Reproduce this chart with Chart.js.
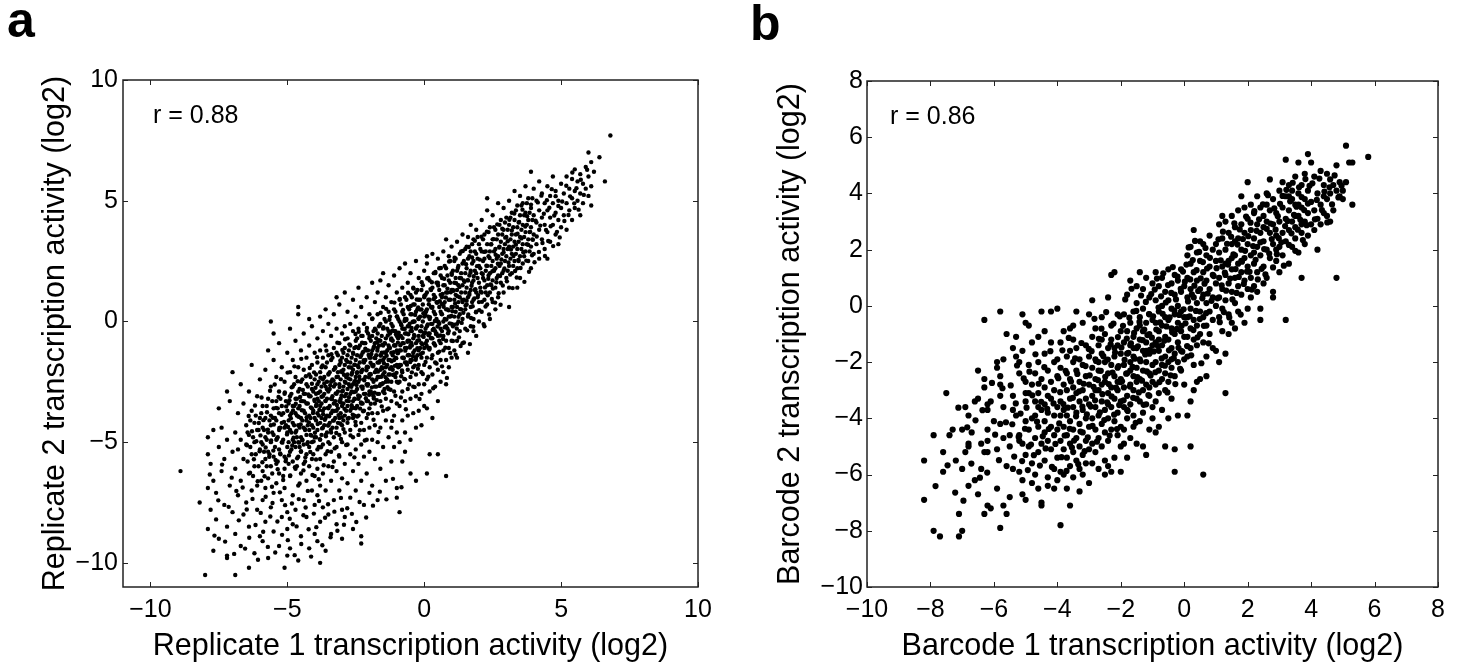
<!DOCTYPE html>
<html>
<head>
<meta charset="utf-8">
<script src="https://cdn.jsdelivr.net/npm/chart.js@4.4.1/dist/chart.umd.min.js"></script>
<style>
  html, body { margin: 0; padding: 0; background: #fff; }
  #wrap { position: relative; width: 1465px; height: 668px; }
  canvas { position: absolute; top: 0; }
  #chartA { left: 0; }
  #chartB { left: 733px; }
</style>
</head>
<body>
<div id="wrap">
  <canvas id="chartA" width="733" height="668"></canvas>
  <canvas id="chartB" width="732" height="668"></canvas>
</div>
<script>
// tick positions
const replicateTicks = [-10, -5, 0, 5, 10];
const barcodeTicks = [-10, -8, -6, -4, -2, 0, 2, 4, 6, 8];

// panel a: replicate 1 vs replicate 2 (log2)
const replicatePoints = [
  [-8.9,-6.2],[-8.2,-7.5],[-8.0,-10.5],[-7.9,-4.8],[-7.9,-5.5],[-7.8,-7.8],[-7.7,-9.5],[-7.2,-9.7],[-7.2,-9.8],[-6.9,-10.5],
  [-6.4,-10.2],[-5.6,0.0],[-5.5,-0.5],[-4.6,0.6],[-4.6,0.3],[-4.2,0.1],[-3.8,-10.0],[-5.1,-10.2],[-5.0,-9.7],[-2.3,-9.2],
  [-2.3,-8.9],[-0.9,-7.9],[-1.0,-7.3],[-0.5,-6.3],[-0.3,-6.6],[0.1,-6.3],[0.2,-5.5],[0.5,-5.5],[0.8,-6.4],[-0.7,-5.4],
  [1.2,-1.5],[1.8,-0.4],[2.4,0.1],[2.5,0.8],[3.1,0.6],[3.4,1.4],[4.5,2.6],[6.8,7.7],[6.4,6.8],[6.6,5.8],
  [6.0,7.0],[3.9,6.2],[2.3,5.1],[0.8,3.4],[0.1,2.7],[-1.5,2.0],[-1.6,1.7],[-3.2,1.0],[-7.0,-2.1],[-7.2,-2.9],[-7.5,-3.6],
  [-7.9,-8.6],[-7.9,-6.9],[-7.8,-5.9],[-7.7,-6.6],[-7.7,-4.5],[-7.6,-8.2],[-7.6,-7.1],[-7.5,-5.2],[-7.5,-9.0],[-7.4,-6.2],
  [-7.4,-4.4],[-7.3,-7.6],[-7.3,-5.7],[-7.2,-8.5],[-7.2,-4.9],[-7.1,-6.8],[-7.1,-3.3],[-7.0,-5.4],[-7.0,-7.9],
  [-6.9,-4.6],[-6.9,-6.1],[-6.9,-8.8],[-6.8,-3.8],[-6.8,-5.3],[-6.8,-7.2],[-6.7,-2.6],[-6.7,-4.9],[-6.7,-6.6],[-6.7,-9.3],
  [-6.6,-3.4],[-6.6,-5.7],[-6.6,-8.0],[-6.5,-4.3],[-6.5,-5.1],[-6.5,-7.5],[-6.4,-2.9],[-6.4,-4.7],[-6.4,-6.3],[-6.4,-8.5],
  [-6.3,-3.7],[-6.3,-5.5],[-6.3,-7.0],[-6.3,-1.8],[-6.2,-4.2],[-6.2,-5.0],[-6.2,-6.0],[-6.2,-9.6],[-6.1,-3.1],[-6.1,-4.5],
  [-6.1,-6.8],[-6.1,-7.8],[-6.0,-2.4],[-6.0,-5.3],[-6.0,-4.0],[-6.0,-8.9],
  [-5.9,-3.5],[-5.9,-4.4],[-5.9,-5.1],[-5.9,-6.2],[-5.9,-7.4],[-5.9,-9.1],[-5.8,-2.0],[-5.8,-4.0],[-5.8,-4.8],[-5.8,-5.7],
  [-5.8,-6.9],[-5.8,-8.3],[-5.7,-1.2],[-5.7,-3.2],[-5.7,-4.6],[-5.7,-5.4],[-5.7,-6.5],[-5.7,-9.8],[-5.6,-2.7],[-5.6,-3.9],
  [-5.6,-4.3],[-5.6,-5.0],[-5.6,-6.0],[-5.6,-7.7],[-5.5,-1.6],[-5.5,-3.6],[-5.5,-4.7],[-5.5,-5.6],[-5.5,-7.1],[-5.5,-8.7],
  [-5.4,-2.3],[-5.4,-3.3],[-5.4,-4.1],[-5.4,-4.9],[-5.4,-5.9],[-5.4,-6.7],[-5.3,-0.9],[-5.3,-2.9],[-5.3,-3.8],[-5.3,-4.5],
  [-5.3,-5.3],[-5.3,-6.3],[-5.3,-9.3],[-5.2,-1.9],[-5.2,-3.5],[-5.2,-4.2],[-5.2,-5.0],[-5.2,-7.4],[-5.2,-8.1],[-5.1,-2.5],
  [-5.1,-3.0],[-5.1,-4.4],[-5.1,-5.6],[-5.1,-6.1],[-5.1,-6.9],[-5.0,-1.3],[-5.0,-3.7],[-5.0,-4.6],[-5.0,-5.2],[-5.0,-8.6],[-5.0,-7.9],
  [-4.9,-0.3],[-4.9,-2.1],[-4.9,-3.1],[-4.9,-3.9],[-4.9,-4.5],[-4.9,-5.4],[-4.9,-6.4],[-4.9,-9.4],[-4.8,-1.6],[-4.8,-2.7],
  [-4.8,-3.5],[-4.8,-4.2],[-4.8,-4.9],[-4.8,-5.8],[-4.8,-7.2],[-4.8,-8.4],[-4.7,-0.8],[-4.7,-2.3],[-4.7,-3.2],[-4.7,-3.8],
  [-4.7,-4.6],[-4.7,-5.2],[-4.7,-6.1],[-4.7,-7.8],[-4.6,-1.9],[-4.6,-2.9],[-4.6,-3.6],[-4.6,-4.3],[-4.6,-5.0],[-4.6,-5.6],
  [-4.6,-6.8],[-4.6,-9.9],[-4.5,-1.2],[-4.5,-2.5],[-4.5,-3.3],[-4.5,-4.0],[-4.5,-4.8],[-4.5,-5.4],[-4.5,-6.3],[-4.5,-8.9],
  [-4.4,-0.5],[-4.4,-2.0],[-4.4,-3.0],[-4.4,-3.7],[-4.4,-4.4],[-4.4,-5.1],[-4.4,-5.9],[-4.4,-7.4],[-4.3,-1.5],[-4.3,-2.6],
  [-4.3,-3.4],[-4.3,-4.1],[-4.3,-4.7],[-4.3,-5.5],[-4.3,-6.6],[-4.3,-8.1],[-4.2,-1.0],[-4.2,-2.2],[-4.2,-3.1],[-4.2,-3.9],
  [-4.2,-4.5],[-4.2,-5.2],[-4.2,-6.0],[-4.2,-9.4],[-4.1,-0.2],[-4.1,-1.8],[-4.1,-2.8],[-4.1,-3.6],[-4.1,-4.3],[-4.1,-5.0],
  [-4.1,-5.7],[-4.1,-7.0],[-4.0,-1.3],[-4.0,-2.4],[-4.0,-3.3],[-4.0,-4.0],[-4.0,-4.8],[-4.0,-6.4],[-4.0,-7.6],[-4.0,-8.8],
  [-3.9,-0.7],[-3.9,-1.7],[-3.9,-2.6],[-3.9,-3.2],[-3.9,-3.8],[-3.9,-4.5],[-3.9,-5.3],[-3.9,-6.1],[-3.9,-7.2],[-3.9,-9.1],
  [-3.8,0.2],[-3.8,-1.2],[-3.8,-2.1],[-3.8,-2.9],[-3.8,-3.5],[-3.8,-4.2],[-3.8,-4.9],[-3.8,-5.7],[-3.8,-6.8],[-3.8,-8.3],
  [-3.7,-0.4],[-3.7,-1.5],[-3.7,-2.4],[-3.7,-3.1],[-3.7,-3.7],[-3.7,-4.4],[-3.7,-5.1],[-3.7,-6.3],[-3.7,-7.7],
  [-3.6,0.5],[-3.6,-1.0],[-3.6,-1.9],[-3.6,-2.7],[-3.6,-3.3],[-3.6,-4.0],[-3.6,-4.7],[-3.6,-5.5],[-3.6,-7.0],[-3.6,-9.5],
  [-3.5,-0.1],[-3.5,-1.4],[-3.5,-2.2],[-3.5,-2.9],[-3.5,-3.6],[-3.5,-4.3],[-3.5,-5.0],[-3.5,-6.0],[-3.5,-8.0],
  [-3.4,-0.6],[-3.4,-1.6],[-3.4,-2.5],[-3.4,-3.2],[-3.4,-3.8],[-3.4,-4.6],[-3.4,-5.4],[-3.4,-6.6],[-3.4,-8.8],
  [-3.3,0.3],[-3.3,-1.1],[-3.3,-2.0],[-3.3,-2.7],[-3.3,-3.4],[-3.3,-4.1],[-3.3,-4.8],[-3.3,-5.8],[-3.3,-7.4],
  [-3.2,-0.3],[-3.2,-1.3],[-3.2,-2.3],[-3.2,-3.0],[-3.2,-3.7],[-3.2,-4.4],[-3.2,-5.2],[-3.2,-6.2],[-3.2,-8.4],
  [-3.1,0.7],[-3.1,-0.9],[-3.1,-1.8],[-3.1,-2.6],[-3.1,-3.3],[-3.1,-4.0],[-3.1,-4.7],[-3.1,-5.6],[-3.1,-7.0],
  [-3.0,-0.5],[-3.0,-1.5],[-3.0,-2.1],[-3.0,-2.9],[-3.0,-3.5],[-3.0,-4.3],[-3.0,-5.0],[-3.0,-6.5],[-3.0,-7.8],[-3.0,-9.0],
  [-2.9,1.2],[-2.9,-0.2],[-2.9,-1.1],[-2.9,-1.8],[-2.9,-2.5],[-2.9,-3.1],[-2.9,-3.9],[-2.9,-4.6],[-2.9,-5.9],[-2.9,-8.1],
  [-2.8,0.4],[-2.8,-0.7],[-2.8,-1.4],[-2.8,-2.2],[-2.8,-2.8],[-2.8,-3.5],[-2.8,-4.2],[-2.8,-5.1],[-2.8,-6.7],
  [-2.7,-0.1],[-2.7,-1.0],[-2.7,-1.7],[-2.7,-2.4],[-2.7,-3.0],[-2.7,-3.7],[-2.7,-4.5],[-2.7,-5.5],[-2.7,-7.3],
  [-2.6,0.9],[-2.6,-0.4],[-2.6,-1.3],[-2.6,-2.0],[-2.6,-2.6],[-2.6,-3.3],[-2.6,-4.0],[-2.6,-4.8],[-2.6,-6.2],[-2.6,-8.6],
  [-2.5,0.2],[-2.5,-0.8],[-2.5,-1.6],[-2.5,-2.3],[-2.5,-2.9],[-2.5,-3.6],[-2.5,-4.3],[-2.5,-5.3],[-2.5,-7.0],
  [-2.4,1.4],[-2.4,-0.3],[-2.4,-1.1],[-2.4,-1.9],[-2.4,-2.5],[-2.4,-3.2],[-2.4,-3.9],[-2.4,-4.7],[-2.4,-5.9],
  [-2.3,0.6],[-2.3,-0.6],[-2.3,-1.4],[-2.3,-2.1],[-2.3,-2.7],[-2.3,-3.4],[-2.3,-4.2],[-2.3,-5.1],[-2.3,-6.6],
  [-2.2,-0.1],[-2.2,-0.9],[-2.2,-1.7],[-2.2,-2.4],[-2.2,-3.0],[-2.2,-3.7],[-2.2,-4.5],[-2.2,-5.6],[-2.2,-7.6],
  [-2.1,1.0],[-2.1,-0.4],[-2.1,-1.2],[-2.1,-1.9],[-2.1,-2.6],[-2.1,-3.3],[-2.1,-4.0],[-2.1,-4.9],[-2.1,-6.3],
  [-2.0,0.3],[-2.0,-0.7],[-2.0,-1.5],[-2.0,-2.2],[-2.0,-2.9],[-2.0,-3.6],[-2.0,-4.4],[-2.0,-5.4],[-2.0,-7.1],
  [-1.9,1.6],[-1.9,0.1],[-1.9,-0.6],[-1.9,-1.2],[-1.9,-1.8],[-1.9,-2.4],[-1.9,-3.0],[-1.9,-3.8],[-1.9,-4.9],[-1.9,-6.8],
  [-1.8,0.8],[-1.8,-0.3],[-1.8,-0.9],[-1.8,-1.5],[-1.8,-2.1],[-1.8,-2.7],[-1.8,-3.4],[-1.8,-4.3],[-1.8,-5.7],
  [-1.7,1.2],[-1.7,0.3],[-1.7,-0.5],[-1.7,-1.1],[-1.7,-1.7],[-1.7,-2.3],[-1.7,-3.0],[-1.7,-3.8],[-1.7,-5.0],[-1.7,-7.4],
  [-1.6,-0.1],[-1.6,-0.8],[-1.6,-1.4],[-1.6,-2.0],[-1.6,-2.6],[-1.6,-3.3],[-1.6,-4.4],[-1.6,-6.1],
  [-1.5,0.6],[-1.5,-0.3],[-1.5,-1.0],[-1.5,-1.6],[-1.5,-2.2],[-1.5,-2.9],[-1.5,-3.7],[-1.5,-5.2],
  [-1.4,1.0],[-1.4,0.0],[-1.4,-0.7],[-1.4,-1.3],[-1.4,-1.9],[-1.4,-2.5],[-1.4,-3.2],[-1.4,-4.1],[-1.4,-6.6],
  [-1.3,1.5],[-1.3,0.4],[-1.3,-0.4],[-1.3,-1.0],[-1.3,-1.6],[-1.3,-2.2],[-1.3,-2.8],[-1.3,-3.6],[-1.3,-4.8],
  [-1.2,0.8],[-1.2,-0.1],[-1.2,-0.7],[-1.2,-1.3],[-1.2,-1.9],[-1.2,-2.5],[-1.2,-3.3],[-1.2,-4.4],[-1.2,-5.8],
  [-1.1,1.9],[-1.1,0.5],[-1.1,-0.4],[-1.1,-1.0],[-1.1,-1.6],[-1.1,-2.2],[-1.1,-2.9],[-1.1,-3.9],[-1.1,-5.2],
  [-1.0,1.2],[-1.0,0.2],[-1.0,-0.6],[-1.0,-1.2],[-1.0,-1.8],[-1.0,-2.5],[-1.0,-3.4],[-1.0,-4.6],[-1.0,-6.9],
  [-0.9,2.2],[-0.9,0.9],[-0.9,0.0],[-0.9,-0.6],[-0.9,-1.2],[-0.9,-1.8],[-0.9,-2.5],[-0.9,-3.5],[-0.9,-5.0],
  [-0.8,1.4],[-0.8,0.4],[-0.8,-0.3],[-0.8,-0.9],[-0.8,-1.5],[-0.8,-2.1],[-0.8,-2.9],[-0.8,-4.1],[-0.8,-5.8],
  [-0.7,2.4],[-0.7,1.0],[-0.7,0.1],[-0.7,-0.5],[-0.7,-1.1],[-0.7,-1.7],[-0.7,-2.4],[-0.7,-3.3],[-0.7,-4.6],
  [-0.6,1.6],[-0.6,0.6],[-0.6,-0.2],[-0.6,-0.8],[-0.6,-1.4],[-0.6,-2.0],[-0.6,-2.8],[-0.6,-3.9],
  [-0.5,2.0],[-0.5,1.1],[-0.5,0.3],[-0.5,-0.4],[-0.5,-1.0],[-0.5,-1.6],[-0.5,-2.3],[-0.5,-3.2],[-0.5,-4.9],
  [-0.4,1.4],[-0.4,0.7],[-0.4,0.0],[-0.4,-0.7],[-0.4,-1.3],[-0.4,-1.9],[-0.4,-2.7],[-0.4,-3.8],
  [-0.3,2.5],[-0.3,1.2],[-0.3,0.4],[-0.3,-0.3],[-0.3,-0.9],[-0.3,-1.5],[-0.3,-2.2],[-0.3,-3.1],[-0.3,-4.4],
  [-0.2,1.8],[-0.2,0.9],[-0.2,0.1],[-0.2,-0.6],[-0.2,-1.2],[-0.2,-1.8],[-0.2,-2.6],[-0.2,-3.7],
  [-0.1,1.3],[-0.1,0.5],[-0.1,-0.2],[-0.1,-0.9],[-0.1,-1.5],[-0.1,-2.1],[-0.1,-3.0],[-0.1,-4.3],
  [0.0,2.1],[0.0,1.0],[0.0,0.2],[0.0,-0.5],[0.0,-1.1],[0.0,-1.8],[0.0,-2.6],[0.0,-3.5],
  [0.1,2.4],[0.1,1.2],[0.1,0.5],[0.1,-0.2],[0.1,-0.8],[0.1,-1.5],[0.1,-2.4],[0.1,-3.6],
  [0.2,1.7],[0.2,0.9],[0.2,0.1],[0.2,-0.5],[0.2,-1.1],[0.2,-1.9],[0.2,-2.9],
  [0.3,2.8],[0.3,1.4],[0.3,0.6],[0.3,-0.1],[0.3,-0.7],[0.3,-1.4],[0.3,-2.2],[0.3,-4.0],
  [0.4,2.0],[0.4,1.0],[0.4,0.3],[0.4,-0.4],[0.4,-1.0],[0.4,-1.7],[0.4,-2.7],
  [0.5,2.6],[0.5,1.6],[0.5,0.8],[0.5,0.0],[0.5,-0.6],[0.5,-1.3],[0.5,-2.0],[0.5,-3.3],
  [0.6,1.9],[0.6,1.1],[0.6,0.4],[0.6,-0.3],[0.6,-0.9],[0.6,-1.6],[0.6,-2.5],
  [0.7,2.9],[0.7,1.5],[0.7,0.7],[0.7,0.0],[0.7,-0.6],[0.7,-1.2],[0.7,-2.1],
  [0.8,2.2],[0.8,1.2],[0.8,0.5],[0.8,-0.2],[0.8,-0.8],[0.8,-1.6],[0.8,-2.6],
  [0.9,2.7],[0.9,1.7],[0.9,0.9],[0.9,0.2],[0.9,-0.4],[0.9,-1.1],[0.9,-1.9],
  [1.0,3.1],[1.0,2.0],[1.0,1.3],[1.0,0.6],[1.0,-0.1],[1.0,-0.8],[1.0,-1.5],
  [1.1,2.5],[1.1,1.6],[1.1,0.9],[1.1,0.2],[1.1,-0.5],[1.1,-1.2],
  [1.2,3.3],[1.2,2.1],[1.2,1.3],[1.2,0.6],[1.2,-0.1],[1.2,-0.8],
  [1.3,2.8],[1.3,1.8],[1.3,1.0],[1.3,0.3],[1.3,-0.4],
  [1.4,3.6],[1.4,2.4],[1.4,1.5],[1.4,0.8],[1.4,0.1],[1.4,-0.9],
  [1.5,3.0],[1.5,2.0],[1.5,1.2],[1.5,0.5],[1.5,-0.3],
  [1.6,3.5],[1.6,2.6],[1.6,1.7],[1.6,1.0],[1.6,0.2],[1.6,-1.3],
  [1.7,4.0],[1.7,2.9],[1.7,2.1],[1.7,1.3],[1.7,0.6],[1.7,-0.2],
  [1.8,3.4],[1.8,2.5],[1.8,1.7],[1.8,0.9],[1.8,0.1],
  [1.9,3.8],[1.9,2.8],[1.9,2.0],[1.9,1.2],[1.9,0.4],[1.9,-0.6],
  [2.0,3.2],[2.0,2.3],[2.0,1.6],[2.0,0.8],[2.0,0.0],
  [2.1,4.2],[2.1,2.9],[2.1,2.0],[2.1,1.2],[2.1,0.4],
  [2.2,3.6],[2.2,2.6],[2.2,1.7],[2.2,0.9],[2.2,-0.2],
  [2.3,4.6],[2.3,3.2],[2.3,2.3],[2.3,1.5],[2.3,0.7],
  [2.4,3.9],[2.4,2.9],[2.4,2.0],[2.4,1.2],
  [2.5,4.4],[2.5,3.4],[2.5,2.5],[2.5,1.7],
  [2.6,3.8],[2.6,3.0],[2.6,2.2],[2.6,1.4],[2.6,0.5],
  [2.7,4.9],[2.7,3.6],[2.7,2.7],[2.7,1.9],[2.7,1.0],
  [2.8,4.2],[2.8,3.3],[2.8,2.4],[2.8,1.6],
  [2.9,4.7],[2.9,3.8],[2.9,3.0],[2.9,2.1],[2.9,1.2],
  [3.0,4.3],[3.0,3.5],[3.0,2.7],[3.0,1.8],
  [3.1,5.0],[3.1,4.0],[3.1,3.1],[3.1,2.3],[3.1,1.4],
  [3.2,4.5],[3.2,3.6],[3.2,2.8],[3.2,2.0],
  [3.3,5.4],[3.3,4.2],[3.3,3.3],[3.3,2.5],
  [3.4,4.8],[3.4,3.9],[3.4,3.0],[3.4,2.2],
  [3.5,5.2],[3.5,4.4],[3.5,3.5],[3.5,2.7],[3.5,1.8],
  [3.6,4.9],[3.6,4.0],[3.6,3.2],[3.6,2.4],
  [3.7,5.6],[3.7,4.5],[3.7,3.7],[3.7,2.9],
  [3.8,5.1],[3.8,4.2],[3.8,3.4],[3.8,2.5],
  [3.9,4.7],[3.9,3.9],[3.9,3.1],[3.9,2.2],
  [4.0,5.5],[4.0,4.4],[4.0,3.6],[4.0,2.8],
  [4.1,5.0],[4.1,4.1],[4.1,3.2],[4.2,5.8],[4.2,4.6],[4.2,3.8],[4.2,2.6],
  [4.3,5.3],[4.3,4.3],[4.3,3.4],[4.4,4.9],[4.4,4.0],[4.4,3.0],
  [4.5,5.6],[4.5,4.6],[4.5,3.7],[4.6,5.2],[4.6,4.3],[4.6,3.3],
  [4.7,6.0],[4.7,4.9],[4.7,4.0],[4.8,5.4],[4.8,4.5],[4.8,3.6],
  [4.9,5.0],[4.9,4.2],[4.9,3.2],[5.0,5.7],[5.0,4.7],[5.0,3.9],
  [5.1,5.3],[5.1,4.4],[5.2,6.0],[5.2,4.9],[5.2,3.8],[5.3,5.5],[5.3,4.6],[5.4,5.9],[5.4,5.1],[5.4,4.2],
  [5.5,6.3],[5.5,5.4],[5.5,4.7],[5.6,5.8],[5.6,5.0],[5.7,6.1],[5.7,5.3],[5.7,4.4],[5.8,5.7],[5.8,4.9],
  [5.9,6.4],[5.9,5.5],[6.0,6.0],[6.0,5.2],[6.1,6.6],[6.1,5.6],[6.1,4.8],[6.2,6.2],
  // dense core along the diagonal
  [-6.45,-4.6],[-6.45,-5.8],[-6.35,-4.1],[-6.35,-5.2],[-6.25,-4.8],[-6.25,-6.4],[-6.15,-3.9],[-6.15,-5.5],
  [-6.05,-4.5],[-6.05,-6.0],[-5.95,-3.8],[-5.95,-5.0],[-5.95,-6.6],[-5.85,-4.5],[-5.85,-5.4],[-5.75,-3.5],
  [-5.75,-4.9],[-5.75,-6.0],[-5.65,-4.1],[-5.65,-5.5],[-5.55,-3.3],[-5.55,-4.6],[-5.55,-6.3],[-5.45,-4.0],
  [-5.45,-5.2],[-5.35,-3.6],[-5.35,-4.8],[-5.35,-5.8],[-5.25,-3.2],[-5.25,-4.4],[-5.25,-5.5],[-5.15,-3.8],
  [-5.15,-4.9],[-5.15,-6.4],[-5.05,-3.3],[-5.05,-4.3],[-5.05,-5.7],
  [-4.95,-3.4],[-4.95,-4.1],[-4.95,-5.0],[-4.95,-5.9],[-4.85,-3.0],[-4.85,-3.8],[-4.85,-4.6],[-4.85,-5.3],
  [-4.75,-2.6],[-4.75,-4.3],[-4.75,-5.0],[-4.75,-3.5],[-4.65,-3.2],[-4.65,-3.9],[-4.65,-4.8],[-4.65,-6.0],
  [-4.55,-2.8],[-4.55,-3.5],[-4.55,-4.4],[-4.55,-5.2],[-4.45,-2.4],[-4.45,-3.3],[-4.45,-4.1],[-4.45,-4.9],
  [-4.35,-3.0],[-4.35,-3.8],[-4.35,-4.5],[-4.35,-5.8],[-4.25,-2.7],[-4.25,-3.4],[-4.25,-4.3],[-4.25,-5.0],
  [-4.15,-2.3],[-4.15,-3.1],[-4.15,-4.0],[-4.15,-4.7],[-4.05,-2.9],[-4.05,-3.7],[-4.05,-4.4],[-4.05,-5.5],
  [-3.95,-2.2],[-3.95,-3.0],[-3.95,-3.5],[-3.95,-4.1],[-3.95,-4.8],[-3.85,-2.5],[-3.85,-3.3],[-3.85,-3.9],[-3.85,-5.2],
  [-3.75,-1.9],[-3.75,-2.7],[-3.75,-3.4],[-3.75,-4.0],[-3.75,-4.7],[-3.65,-2.3],[-3.65,-3.0],[-3.65,-3.6],[-3.65,-4.3],
  [-3.55,-1.7],[-3.55,-2.5],[-3.55,-3.2],[-3.55,-3.9],[-3.55,-4.6],[-3.45,-2.1],[-3.45,-2.8],[-3.45,-3.5],[-3.45,-4.2],
  [-3.35,-1.5],[-3.35,-2.4],[-3.35,-3.1],[-3.35,-3.7],[-3.35,-4.4],[-3.25,-1.9],[-3.25,-2.6],[-3.25,-3.3],[-3.25,-4.0],
  [-3.15,-1.4],[-3.15,-2.1],[-3.15,-2.9],[-3.15,-3.6],[-3.15,-4.2],[-3.05,-1.7],[-3.05,-2.4],[-3.05,-3.2],[-3.05,-3.8],
  [-2.95,-1.3],[-2.95,-2.0],[-2.95,-2.7],[-2.95,-3.4],[-2.95,-4.1],[-2.85,-1.6],[-2.85,-2.3],[-2.85,-3.0],[-2.85,-3.7],
  [-2.75,-1.2],[-2.75,-1.9],[-2.75,-2.6],[-2.75,-3.3],[-2.75,-4.0],[-2.65,-1.5],[-2.65,-2.2],[-2.65,-2.9],[-2.65,-3.6],
  [-2.55,-1.1],[-2.55,-1.8],[-2.55,-2.5],[-2.55,-3.2],[-2.55,-3.9],[-2.45,-0.7],[-2.45,-1.4],[-2.45,-2.1],[-2.45,-2.8],[-2.45,-3.5],
  [-2.35,-1.0],[-2.35,-1.7],[-2.35,-2.4],[-2.35,-3.1],[-2.25,-0.6],[-2.25,-1.3],[-2.25,-2.0],[-2.25,-2.7],[-2.25,-3.4],
  [-2.15,-0.9],[-2.15,-1.6],[-2.15,-2.3],[-2.15,-3.0],[-2.05,-0.5],[-2.05,-1.2],[-2.05,-1.9],[-2.05,-2.6],[-2.05,-3.3],
  [-1.95,-0.8],[-1.95,-1.5],[-1.95,-2.2],[-1.95,-2.9],[-1.85,-0.4],[-1.85,-1.1],[-1.85,-1.8],[-1.85,-2.5],[-1.85,-3.1],
  [-1.75,-0.7],[-1.75,-1.4],[-1.75,-2.0],[-1.75,-2.7],[-1.65,-0.2],[-1.65,-1.0],[-1.65,-1.7],[-1.65,-2.3],[-1.65,-3.0],
  [-1.55,-0.6],[-1.55,-1.3],[-1.55,-1.9],[-1.55,-2.6],[-1.45,0.1],[-1.45,-0.9],[-1.45,-1.5],[-1.45,-2.1],[-1.45,-2.8],
  [-1.35,-0.3],[-1.35,-1.2],[-1.35,-1.8],[-1.35,-2.4],[-1.25,0.2],[-1.25,-0.5],[-1.25,-1.1],[-1.25,-1.6],[-1.25,-2.2],
  [-1.15,-0.2],[-1.15,-0.8],[-1.15,-1.4],[-1.15,-2.0],[-1.05,0.4],[-1.05,-0.4],[-1.05,-1.0],[-1.05,-1.5],[-1.05,-2.3],
  [-0.95,0.1],[-0.95,-0.7],[-0.95,-1.3],[-0.95,-1.9],[-0.85,0.7],[-0.85,-0.1],[-0.85,-0.6],[-0.85,-1.2],[-0.85,-1.8],
  [-0.75,0.3],[-0.75,-0.3],[-0.75,-0.9],[-0.75,-1.5],[-0.65,0.9],[-0.65,0.1],[-0.65,-0.5],[-0.65,-1.1],[-0.65,-1.7],
  [-0.55,0.5],[-0.55,-0.2],[-0.55,-0.8],[-0.55,-1.4],[-0.45,1.0],[-0.45,0.3],[-0.45,-0.4],[-0.45,-1.0],[-0.45,-1.6],
  [-0.35,0.7],[-0.35,0.0],[-0.35,-0.6],[-0.35,-1.2],[-0.25,1.3],[-0.25,0.5],[-0.25,-0.2],[-0.25,-0.8],[-0.25,-1.4],
  [-0.15,0.9],[-0.15,0.2],[-0.15,-0.4],[-0.15,-1.1],[-0.05,1.5],[-0.05,0.7],[-0.05,0.0],[-0.05,-0.6],[-0.05,-1.3],
  [0.05,1.1],[0.05,0.4],[0.05,-0.3],[0.05,-0.9],[0.15,1.8],[0.15,0.9],[0.15,0.2],[0.15,-0.5],[0.15,-1.1],
  [0.25,1.3],[0.25,0.6],[0.25,-0.1],[0.25,-0.7],[0.35,2.0],[0.35,1.1],[0.35,0.4],[0.35,-0.3],[0.35,-0.9],
  [0.45,1.6],[0.45,0.8],[0.45,0.1],[0.45,-0.5],[0.55,2.2],[0.55,1.3],[0.55,0.6],[0.55,-0.1],[0.55,-0.8],
  [0.65,1.8],[0.65,1.0],[0.65,0.3],[0.65,-0.4],[0.75,2.3],[0.75,1.5],[0.75,0.8],[0.75,0.1],
  [0.85,1.9],[0.85,1.2],[0.85,0.5],[0.85,-0.3],[0.95,2.5],[0.95,1.6],[0.95,0.9],[0.95,0.2],
  [1.05,2.1],[1.05,1.3],[1.05,0.6],[1.05,-0.2],[1.15,2.6],[1.15,1.8],[1.15,1.1],[1.15,0.4],
  [1.25,2.3],[1.25,1.5],[1.25,0.8],[1.25,0.0],[1.35,2.9],[1.35,2.0],[1.35,1.2],[1.35,0.5],
  [1.45,2.5],[1.45,1.7],[1.45,0.9],[1.55,3.1],[1.55,2.2],[1.55,1.4],[1.55,0.7],[1.65,2.7],[1.65,1.9],[1.65,1.1],
  [1.75,3.2],[1.75,2.4],[1.75,1.6],[1.75,0.8],[1.85,2.9],[1.85,2.1],[1.85,1.3],[1.95,3.5],[1.95,2.6],[1.95,1.8],[1.95,1.0],
  [2.05,3.0],[2.05,2.2],[2.05,1.4],[2.15,3.4],[2.15,2.5],[2.15,1.8],[2.25,2.9],[2.25,2.1],[2.25,1.2],
  [2.35,3.7],[2.35,2.7],[2.35,1.9],[2.45,3.2],[2.45,2.3],[2.45,1.5],[2.55,3.9],[2.55,2.9],[2.55,2.1],
  [2.65,3.4],[2.65,2.6],[2.65,1.8],[2.75,4.0],[2.75,3.1],[2.75,2.3],[2.85,3.6],[2.85,2.8],[2.85,2.0],
  [2.95,4.1],[2.95,3.2],[2.95,2.5],[3.05,3.8],[3.05,3.0],[3.05,2.1],[3.15,4.3],[3.15,3.4],[3.15,2.6],
  [3.25,3.9],[3.25,3.1],[3.25,2.3],[3.35,4.6],[3.35,3.6],[3.35,2.8],[3.45,4.1],[3.45,3.3],[3.45,2.5],
  [3.55,4.8],[3.55,3.8],[3.55,3.0],[3.65,4.4],[3.65,3.5],[3.65,2.7],[3.75,4.9],[3.75,4.0],[3.75,3.2],
  [3.85,4.5],[3.85,3.7],[3.85,2.9],[3.95,5.1],[3.95,4.2],[3.95,3.4],
  // second pass over the band, finer positions
  [-6.47,-5.13],[-6.41,-3.92],[-6.36,-6.27],[-6.29,-4.55],[-6.22,-5.71],[-6.18,-3.48],[-6.13,-4.96],[-6.08,-6.62],[-6.04,-4.21],[-6.01,-5.38],
  [-5.98,-4.72],[-5.94,-3.15],[-5.91,-5.83],[-5.87,-4.09],[-5.83,-6.41],[-5.79,-5.22],[-5.74,-3.76],[-5.71,-4.48],[-5.66,-5.61],[-5.63,-2.87],
  [-5.59,-4.93],[-5.56,-6.85],[-5.53,-3.99],[-5.51,-5.35],[-5.49,-4.27],[-5.46,-2.61],[-5.43,-5.74],[-5.41,-3.58],[-5.38,-4.86],[-5.35,-6.12],
  [-5.32,-3.13],[-5.29,-4.41],[-5.26,-5.47],[-5.23,-2.39],[-5.21,-3.87],[-5.18,-5.02],[-5.15,-6.57],[-5.12,-4.16],[-5.09,-2.94],[-5.06,-5.79],
  [-5.04,-3.52],[-5.01,-4.68],[-4.99,-2.12],[-4.97,-4.37],[-4.94,-5.55],[-4.92,-3.26],[-4.89,-6.38],[-4.87,-4.01],[-4.84,-2.73],[-4.82,-5.14],
  [-4.79,-3.69],[-4.77,-4.82],[-4.74,-1.86],[-4.72,-6.04],[-4.69,-3.41],[-4.67,-4.53],[-4.64,-5.67],[-4.62,-2.48],[-4.59,-3.95],[-4.57,-5.02],
  [-4.55,-6.71],[-4.53,-3.13],[-4.51,-4.27],[-4.50,-5.38],[-4.49,-1.55],[-4.47,-3.68],[-4.45,-4.92],[-4.43,-2.84],[-4.41,-6.17],[-4.38,-3.31],
  [-4.36,-4.45],[-4.34,-5.63],[-4.32,-2.27],[-4.29,-3.97],[-4.27,-5.08],[-4.25,-7.02],[-4.23,-3.02],[-4.21,-4.18],[-4.18,-1.93],[-4.16,-5.41],
  [-4.14,-3.56],[-4.12,-4.73],[-4.10,-2.58],[-4.08,-6.36],[-4.06,-3.79],[-4.04,-4.97],[-4.02,-2.11],[-4.01,-3.24],
  [-3.99,-4.61],[-3.97,-2.75],[-3.95,-5.72],[-3.93,-3.43],[-3.91,-1.48],[-3.89,-4.25],[-3.87,-2.96],[-3.85,-6.54],[-3.83,-3.67],[-3.81,-4.88],
  [-3.79,-2.33],[-3.77,-5.21],[-3.75,-3.12],[-3.73,-4.43],[-3.71,-1.82],[-3.69,-3.84],[-3.67,-5.96],[-3.65,-2.57],[-3.63,-4.07],[-3.61,-3.29],
  [-3.59,-4.76],[-3.57,-1.21],[-3.55,-2.81],[-3.53,-5.38],[-3.52,-3.58],[-3.51,-4.31],
  [-3.49,-2.17],[-3.47,-3.93],[-3.45,-5.07],[-3.43,-2.64],[-3.41,-4.49],[-3.39,-1.36],[-3.37,-3.22],[-3.35,-6.03],[-3.33,-4.11],[-3.31,-2.45],
  [-3.29,-3.71],[-3.27,-5.26],[-3.25,-1.93],[-3.23,-2.98],[-3.21,-4.62],[-3.19,-3.46],[-3.17,-0.88],[-3.15,-2.29],[-3.13,-3.88],[-3.11,-5.54],
  [-3.09,-2.72],[-3.07,-4.23],[-3.06,-1.62],[-3.05,-3.35],[-3.04,-4.87],[-3.03,-2.06],[-3.02,-3.08],[-3.01,-3.97],
  [-2.99,-1.18],[-2.97,-2.87],[-2.95,-4.46],[-2.93,-2.21],[-2.91,-3.62],[-2.89,-0.74],[-2.87,-2.54],[-2.85,-5.12],[-2.83,-3.29],[-2.81,-1.67],
  [-2.79,-4.03],[-2.77,-2.36],[-2.75,-3.14],[-2.73,-0.95],[-2.71,-2.68],[-2.69,-4.72],[-2.67,-1.91],[-2.65,-3.47],[-2.63,-2.12],[-2.61,-3.86],
  [-2.59,-1.34],[-2.57,-2.93],[-2.55,-5.63],[-2.54,-1.79],[-2.53,-3.21],[-2.52,-2.47],[-2.51,-4.16],[-2.51,-0.52],[-2.58,-3.58],[-2.66,-2.71],
  [-2.49,-1.06],[-2.47,-2.63],[-2.45,-3.94],[-2.43,-1.82],[-2.41,-3.07],[-2.39,-0.43],[-2.37,-2.28],[-2.35,-4.51],[-2.33,-1.47],[-2.31,-3.36],
  [-2.29,-2.05],[-2.27,-0.88],[-2.25,-2.79],[-2.23,-3.72],[-2.21,-1.61],[-2.19,-2.44],[-2.17,-4.93],[-2.15,-1.13],[-2.13,-3.18],[-2.11,-2.02],
  [-2.09,-0.27],[-2.07,-2.66],[-2.05,-3.83],[-2.03,-1.39],[-2.02,-2.31],[-2.01,-3.04],[-2.46,-2.14],[-2.34,-3.61],[-2.22,-1.25],[-2.08,-1.88],
  [-1.99,-0.62],[-1.97,-2.18],[-1.95,-3.41],[-1.93,-1.35],[-1.91,-2.73],[-1.89,0.12],[-1.87,-1.86],[-1.85,-4.07],[-1.83,-1.04],[-1.81,-2.95],
  [-1.79,-1.52],[-1.77,-0.35],[-1.75,-2.41],[-1.73,-3.26],[-1.71,-1.21],[-1.69,-2.08],[-1.67,-4.58],[-1.65,-0.78],[-1.63,-2.67],[-1.61,-1.63],
  [-1.59,0.36],[-1.57,-2.29],[-1.55,-3.52],[-1.53,-0.97],[-1.52,-1.94],[-1.51,-2.56],[-1.96,-1.71],[-1.84,-3.19],[-1.72,-0.86],[-1.58,-1.41],
  [-1.49,-0.24],[-1.47,-1.73],[-1.45,-2.97],[-1.43,-0.91],[-1.41,-2.31],[-1.39,0.52],[-1.37,-1.42],[-1.35,-3.64],[-1.33,-0.58],[-1.31,-2.49],
  [-1.29,-1.11],[-1.27,0.07],[-1.25,-1.96],[-1.23,-2.83],[-1.21,-0.76],[-1.19,-1.65],[-1.17,-4.12],[-1.15,-0.37],[-1.13,-2.22],[-1.11,-1.27],
  [-1.09,0.78],[-1.07,-1.84],[-1.05,-3.08],[-1.03,-0.53],[-1.02,-1.52],[-1.01,-2.13],[-1.46,-1.29],[-1.34,-2.72],[-1.22,-0.43],[-1.08,-0.98],
  [-0.99,0.21],[-0.97,-1.32],[-0.95,-2.54],[-0.93,-0.47],[-0.91,-1.87],[-0.89,0.93],[-0.87,-0.99],[-0.85,-3.15],[-0.83,-0.16],[-0.81,-2.03],
  [-0.79,-0.69],[-0.77,0.48],[-0.75,-1.53],[-0.73,-2.38],[-0.71,-0.31],[-0.69,-1.21],[-0.67,-3.64],[-0.65,0.06],[-0.63,-1.79],[-0.61,-0.84],
  [-0.59,1.19],[-0.57,-1.39],[-0.55,-2.61],[-0.53,-0.09],[-0.52,-1.08],[-0.51,-1.68],[-0.96,-0.88],[-0.84,-2.27],[-0.72,0.02],[-0.58,-0.53],
  [-0.49,0.64],[-0.47,-0.89],[-0.45,-2.11],[-0.43,-0.03],[-0.41,-1.44],[-0.39,1.36],[-0.37,-0.56],[-0.35,-2.72],[-0.33,0.27],[-0.31,-1.59],
  [-0.29,-0.26],[-0.27,0.91],[-0.25,-1.11],[-0.23,-1.96],[-0.21,0.13],[-0.19,-0.78],[-0.17,-3.21],[-0.15,0.49],[-0.13,-1.36],[-0.11,-0.41],
  [-0.09,1.62],[-0.07,-0.95],[-0.05,-2.18],[-0.03,0.34],[-0.02,-0.64],[-0.46,-0.27],[-0.34,-1.83],[-0.22,0.58],
  [0.01,1.07],[0.03,-0.46],[0.05,-1.68],[0.07,0.41],[0.09,-1.01],[0.11,1.78],[0.13,-0.13],[0.15,-2.29],[0.17,0.71],[0.19,-1.16],
  [0.21,0.17],[0.23,1.34],[0.25,-0.68],[0.27,-1.53],[0.29,0.56],[0.31,-0.35],[0.33,-2.77],[0.35,0.93],[0.37,-0.93],[0.39,0.02],
  [0.41,2.05],[0.43,-0.52],[0.45,-1.74],[0.47,0.77],[0.49,-0.21],[0.04,0.28],[0.16,-0.57],[0.28,1.62],
  [0.51,1.49],[0.53,-0.03],[0.55,-1.25],[0.57,0.84],[0.59,-0.58],[0.61,2.21],[0.63,0.31],[0.65,-1.86],[0.67,1.14],[0.69,-0.73],
  [0.71,0.61],[0.73,1.77],[0.75,-0.24],[0.77,-1.09],[0.79,0.99],[0.81,0.08],[0.83,-2.34],[0.85,1.36],[0.87,-0.49],[0.89,0.46],
  [0.91,2.48],[0.93,-0.08],[0.95,-1.31],[0.97,1.21],[0.99,0.23],[0.64,0.72],
  [1.01,1.93],[1.03,0.42],[1.05,-0.81],[1.07,1.27],[1.09,-0.14],[1.11,2.64],[1.13,0.74],[1.15,-1.38],[1.17,1.58],[1.19,-0.29],
  [1.21,1.04],[1.23,2.21],[1.25,0.19],[1.27,-0.66],[1.29,1.43],[1.31,0.51],[1.33,-1.02],[1.35,1.79],[1.37,-0.06],[1.39,0.89],
  [1.41,2.92],[1.43,0.36],[1.45,-0.87],[1.47,1.64],
  [1.51,0.66],[1.53,2.37],[1.55,0.86],[1.57,-0.37],[1.59,1.71],[1.61,0.29],[1.63,3.08],[1.65,1.18],[1.67,-0.94],[1.69,2.02],
  [1.71,0.14],[1.73,1.48],[1.75,2.65],[1.77,0.63],[1.79,-0.22],[1.81,1.87],[1.83,0.95],[1.85,3.34],[1.87,1.33],[1.89,0.38],[1.93,2.29],[1.97,1.09],
  [2.01,0.47],[2.03,2.56],[2.06,1.23],[2.09,3.51],[2.11,0.81],[2.14,1.96],[2.17,-0.11],[2.19,2.88],[2.22,1.41],[2.24,0.62],
  [2.27,2.31],[2.29,3.72],[2.32,1.08],[2.34,1.77],[2.37,0.29],[2.39,2.63],[2.42,1.53],[2.44,3.19],[2.47,0.93],[2.49,2.08],
  [2.51,1.36],[2.54,3.41],[2.56,2.14],[2.59,0.78],[2.61,2.76],[2.64,1.62],[2.67,4.02],[2.69,2.39],[2.72,1.17],[2.74,3.06],
  [2.77,1.88],[2.79,0.69],[2.82,2.57],[2.85,3.84],[2.87,1.49],[2.9,2.86],[2.93,2.19],[2.96,3.47],
  [3.02,1.66],[3.05,3.32],[3.08,2.44],[3.11,4.21],[3.14,1.94],[3.17,2.98],[3.2,3.77],[3.23,1.38],[3.26,2.71],[3.29,4.47],
  [3.32,2.09],[3.35,3.18],[3.38,1.82],[3.41,3.63],[3.44,2.55],[3.47,4.12],
  [3.52,2.21],[3.55,3.44],[3.59,4.63],[3.62,2.87],[3.66,1.64],[3.69,3.93],[3.73,2.52],[3.76,4.36],[3.8,3.17],[3.83,2.06],
  [3.87,3.71],[3.9,4.84],[3.94,2.74],[3.97,3.38],
  [4.03,2.45],[4.07,4.17],[4.11,3.52],[4.15,4.93],[4.19,2.88],[4.24,3.97],[4.28,5.21],[4.32,3.25],[4.37,4.46],[4.41,2.71],[4.45,3.79],[4.48,5.02],
  [4.53,3.33],[4.57,4.71],[4.62,3.94],[4.66,5.48],[4.71,3.12],[4.75,4.39],[4.8,5.19],[4.85,3.71],[4.9,4.78],[4.95,3.48],
  [5.04,4.97],[5.12,4.16],[5.19,5.62],[5.27,4.41],[5.33,5.18],[5.41,6.17],[5.48,4.89],[5.56,5.52],[5.64,4.63],[5.72,5.87],[5.83,5.24],[5.95,6.28],
  // lower tail
  [-7.83,-6.34],[-7.66,-8.87],[-7.52,-7.41],[-7.38,-5.93],[-7.27,-9.12],[-7.14,-7.68],[-7.03,-6.47],[-6.94,-9.63],[-6.86,-7.02],[-6.77,-8.24],
  [-6.63,-6.88],[-6.54,-9.41],[-6.48,-7.79],[-6.39,-8.96],[-6.27,-7.35],[-6.16,-8.43],[-6.07,-9.87],[-5.97,-7.93],[-5.88,-8.71],[-5.79,-7.26],
  [-5.71,-9.34],[-5.62,-8.08],[-5.54,-7.52],[-5.44,-9.57],[-5.36,-8.29],[-5.27,-7.08],[-5.19,-8.84],[-5.08,-7.61],[-4.98,-9.06],[-4.91,-8.17],
  [-4.83,-7.54],[-4.73,-9.68],[-4.66,-8.49],[-4.58,-7.36],[-4.49,-9.22],[-4.41,-8.03],[-4.33,-7.71],[-4.22,-8.61],[-4.13,-9.74],[-4.03,-7.96],
  [-3.94,-8.52],[-3.84,-7.44],[-3.72,-9.27],[-3.62,-8.13],[-3.51,-7.57],[-3.42,-8.94],[-3.28,-7.88],[-3.17,-8.67],[-3.04,-7.31],[-2.93,-8.42],
  [-2.81,-7.74],[-2.64,-7.97],[-2.48,-8.31],[-2.36,-7.48],[-2.12,-8.12],[-1.87,-7.63],[-1.62,-7.05],[-1.38,-7.37],[-1.14,-6.52],[-0.83,-6.87]
];

// panel b: barcode 1 vs barcode 2 (log2)
const barcodePoints = [
  [-8.2,-6.9],[-8.2,-5.5],[-7.9,-4.6],[-7.9,-8.0],[-7.7,-8.2],[-7.6,-5.9],[-7.6,-5.2],[-7.5,-3.1],[-7.4,-4.6],[-7.3,-4.4],
  [-7.2,-5.5],[-7.1,-7.4],[-7.1,-8.2],[-7.0,-8.0],[-7.0,-5.8],[-7.0,-4.4],
  [-6.9,-3.6],[-6.8,-3.9],[-6.8,-4.9],[-6.8,-5.0],[-6.9,-5.2],[-6.8,-6.4],[-6.7,-4.5],[-6.6,-6.2],[-6.6,-3.4],[-6.5,-3.3],
  [-6.5,-2.3],[-6.5,-6.7],[-6.4,-4.9],[-6.4,-5.8],[-6.3,-7.4],[-6.3,-5.2],[-6.2,-5.2],[-6.3,-2.9],[-6.3,-2.6],[-6.3,-0.5],
  [-6.2,-4.4],[-6.2,-4.8],[-6.2,-3.5],[-6.2,-3.7],[-6.2,-7.1],[-6.1,-7.2],[-6.1,-3.4],[-6.0,-4.1],
  [-5.9,-5.1],[-5.9,-6.5],[-5.8,-0.2],[-5.8,-7.9],[-5.9,-2.2],[-5.9,-2.0],[-5.8,-2.5],[-5.8,-2.8],[-5.8,-3.2],[-5.7,-3.6],
  [-5.8,-4.2],[-5.7,-4.7],[-5.6,-1.0],[-5.7,-7.1],[-5.7,-1.9],[-5.6,-7.4],[-5.6,-5.7],[-5.5,-6.8],[-5.5,-4.6],[-5.5,-5.0],
  [-5.4,-1.5],[-5.4,-5.8],[-5.4,-3.2],[-5.4,-3.7],[-5.3,-3.9],[-5.3,-1.1],[-5.3,-1.8],[-5.2,-2.0],[-5.2,-2.4],[-5.2,-4.6],
  [-5.2,-4.8],[-5.1,-4.9],[-5.2,-5.9],[-5.1,-6.2],[-5.1,-6.7],[-5.0,-6.9],[-5.1,-0.3],[-5.0,-0.6],[-5.1,-1.6],[-5.0,-3.1],
  [-5.0,-3.4],[-5.0,-4.1],[-5.0,-5.3],[-5.0,-2.7],
  [-4.9,-0.7],[-4.9,-3.1],[-4.9,-2.1],[-4.8,-4.0],[-4.9,-4.4],[-4.8,-5.6],[-4.8,-6.3],[-4.8,-1.3],[-4.7,-3.4],[-4.7,-3.9],
  [-4.7,-4.7],[-4.7,-6.0],[-4.7,-2.4],[-4.6,-2.0],[-4.6,-3.1],[-4.6,-4.3],[-4.6,-5.2],[-4.6,-6.5],[-4.6,-1.1],[-4.5,-0.2],
  [-4.5,-7.0],[-4.5,-7.1],[-4.5,-2.6],[-4.5,-3.7],[-4.5,-4.9],[-4.4,-0.9],[-4.4,-1.7],[-4.4,-2.9],[-4.4,-3.5],[-4.4,-4.1],
  [-4.4,-4.5],[-4.4,-5.5],[-4.3,-6.1],[-4.3,-6.4],[-4.3,-2.3],[-4.3,-3.2],[-4.3,-3.8],[-4.3,-4.8],[-4.2,-0.2],[-4.2,-1.3],
  [-4.2,-2.7],[-4.2,-3.3],[-4.2,-4.3],[-4.2,-5.1],[-4.1,-5.8],[-4.1,-6.5],[-4.1,-2.0],[-4.1,-3.0],[-4.1,-3.9],[-4.1,-4.6],
  [-4.0,-0.1],[-4.0,-1.9],[-4.0,-2.5],[-4.0,-3.6],[-4.0,-4.4],[-4.0,-5.4],[-4.0,-6.2],[-4.6,-3.6],[-4.8,-2.8],[-4.9,-5.0],
  [-3.9,-7.8],[-3.9,-4.8],[-3.9,-3.4],[-3.9,-2.2],[-3.9,-1.3],[-3.9,-5.9],[-3.8,-0.9],[-3.8,-2.8],[-3.8,-3.7],[-3.8,-4.3],
  [-3.8,-5.1],[-3.8,-6.0],[-3.7,-1.8],[-3.7,-3.0],[-3.7,-3.9],[-3.7,-4.6],[-3.7,-5.4],[-3.7,-2.4],[-3.6,-7.1],[-3.6,-0.8],
  [-3.6,-1.6],[-3.6,-2.6],[-3.6,-3.3],[-3.6,-4.1],[-3.6,-4.9],[-3.6,-5.7],[-3.5,-2.0],[-3.5,-2.9],[-3.5,-3.6],[-3.5,-4.4],
  [-3.5,-5.2],[-3.5,-6.1],[-3.5,-1.2],[-3.4,-0.2],[-3.4,-2.3],[-3.4,-3.1],[-3.4,-3.8],[-3.4,-4.7],[-3.4,-5.5],[-3.4,-1.5],
  [-3.3,-6.6],[-3.3,-2.7],[-3.3,-3.4],[-3.3,-4.2],[-3.3,-5.0],[-3.3,-5.8],[-3.3,-1.9],[-3.2,-0.6],[-3.2,-2.1],[-3.2,-3.0],
  [-3.2,-3.7],[-3.2,-4.5],[-3.2,-5.3],[-3.2,-6.0],[-3.1,-1.4],[-3.1,-2.5],[-3.1,-3.3],[-3.1,-4.0],[-3.1,-4.8],[-3.1,-5.6],
  [-3.0,-0.3],[-3.0,-1.8],[-3.0,-2.8],[-3.0,-3.5],[-3.0,-4.3],[-3.0,-5.1],[-3.0,-6.3],[-3.5,-0.7],[-3.7,-6.5],[-3.9,-3.9],
  [-2.9,0.2],[-2.9,-1.1],[-2.9,-2.2],[-2.9,-3.2],[-2.9,-4.0],[-2.9,-4.9],[-2.9,-5.6],[-2.8,-0.8],[-2.8,-1.9],[-2.8,-2.6],
  [-2.8,-3.6],[-2.8,-4.4],[-2.8,-5.2],[-2.7,-1.4],[-2.7,-2.3],[-2.7,-3.0],[-2.7,-3.9],[-2.7,-4.7],[-2.7,-5.8],[-2.6,-0.4],
  [-2.6,-1.7],[-2.6,-2.8],[-2.6,-3.4],[-2.6,-4.2],[-2.6,-5.0],[-2.5,-6.0],[-2.5,-1.0],[-2.5,-2.0],[-2.5,-2.7],[-2.5,-3.7],
  [-2.5,-4.5],[-2.5,-5.5],[-2.4,0.3],[-2.4,-1.5],[-2.4,-2.4],[-2.4,-3.1],[-2.4,-4.0],[-2.4,-4.8],[-2.4,-5.7],[-2.3,-0.7],
  [-2.3,-1.2],[-2.3,-2.1],[-2.3,-2.9],[-2.3,-3.6],[-2.3,-4.4],[-2.3,-5.9],[-2.2,1.2],[-2.2,-1.8],[-2.2,-2.5],[-2.2,-3.3],
  [-2.2,-4.1],[-2.2,-5.4],[-2.1,-0.3],[-2.1,-1.4],[-2.1,-2.2],[-2.1,-3.0],[-2.1,-3.8],[-2.1,-4.6],[-2.0,-5.9],[-2.0,-0.9],
  [-2.0,-1.7],[-2.0,-2.6],[-2.0,-3.4],[-2.0,-4.3],[-2.0,-5.0],[-2.3,1.1],[-2.6,-1.2],[-2.8,-3.0],[-2.7,-2.0],[-2.4,-3.5],
  [-2.1,-2.7],[-2.2,-1.5],
  [-1.9,-0.3],[-1.9,-1.3],[-1.9,-2.1],[-1.9,-2.9],[-1.9,-3.6],[-1.9,-4.4],[-1.8,0.4],[-1.8,-0.9],[-1.8,-1.7],[-1.8,-2.4],
  [-1.8,-3.2],[-1.8,-4.0],[-1.8,-5.4],[-1.7,0.9],[-1.7,-0.6],[-1.7,-1.4],[-1.7,-2.0],[-1.7,-2.8],[-1.7,-3.5],[-1.7,-4.7],
  [-1.6,-0.2],[-1.6,-1.1],[-1.6,-1.8],[-1.6,-2.5],[-1.6,-3.0],[-1.6,-3.9],[-1.6,-4.3],[-1.5,0.1],[-1.5,-0.8],[-1.5,-1.5],
  [-1.5,-2.2],[-1.5,-2.7],[-1.5,-3.3],[-1.5,-4.9],[-1.4,1.2],[-1.4,-0.4],[-1.4,-1.2],[-1.4,-1.9],[-1.4,-2.6],[-1.4,-3.4],
  [-1.4,-4.1],[-1.3,0.6],[-1.3,-0.1],[-1.3,-0.9],[-1.3,-1.6],[-1.3,-2.3],[-1.3,-3.0],[-1.3,-3.8],[-1.3,-5.0],[-1.2,1.0],
  [-1.2,-0.6],[-1.2,-1.3],[-1.2,-2.0],[-1.2,-2.8],[-1.2,-3.5],[-1.2,-5.3],[-1.1,0.3],[-1.1,-0.3],[-1.1,-1.0],[-1.1,-1.7],
  [-1.1,-2.4],[-1.1,-3.2],[-1.1,-4.4],[-1.0,0.8],[-1.0,-0.5],[-1.0,-1.4],[-1.0,-2.1],[-1.0,-2.7],[-1.0,-3.6],[-1.0,-4.0],
  [-1.5,0.7],[-1.8,-3.7],[-1.9,-4.9],[-1.6,-1.5],[-1.4,-0.7],[-1.2,-1.6],[-1.7,-2.3],[-1.1,-2.9],
  [-0.9,1.2],[-0.9,0.2],[-0.9,-0.6],[-0.9,-1.3],[-0.9,-2.0],[-0.9,-2.8],[-0.9,-3.4],[-0.8,0.7],[-0.8,-0.2],[-0.8,-0.9],
  [-0.8,-1.6],[-0.8,-2.3],[-0.8,-3.1],[-0.8,-4.3],[-0.7,1.0],[-0.7,0.0],[-0.7,-0.7],[-0.7,-1.4],[-0.7,-2.1],[-0.7,-2.6],
  [-0.7,-3.7],[-0.6,0.5],[-0.6,-0.4],[-0.6,-1.1],[-0.6,-1.8],[-0.6,-2.4],[-0.6,-3.0],[-0.5,1.3],[-0.5,0.2],[-0.5,-0.5],
  [-0.5,-1.2],[-0.5,-2.0],[-0.5,-2.7],[-0.5,-4.0],[-0.4,0.8],[-0.4,-0.1],[-0.4,-0.8],[-0.4,-1.5],[-0.4,-2.2],[-0.4,-3.3],
  [-0.3,-5.9],[-0.3,-5.1],[-0.3,1.1],[-0.3,0.4],[-0.3,-0.3],[-0.3,-1.0],[-0.3,-1.7],[-0.3,-2.5],[-0.2,0.9],[-0.2,0.0],
  [-0.2,-0.6],[-0.2,-1.3],[-0.2,-2.0],[-0.2,-3.9],[-0.1,1.3],[-0.1,0.5],[-0.1,-0.2],[-0.1,-0.9],[-0.1,-1.6],[-0.1,-2.3],
  [0.0,0.7],[0.0,-0.4],[0.0,-1.1],[0.0,-1.9],[0.0,-2.8],[-0.9,-4.5],[-0.6,-5.0],[-0.8,-1.2],[-0.4,-1.9],
  [0.1,1.8],[0.1,1.0],[0.1,0.3],[0.1,-0.4],[0.1,-1.1],[0.1,-1.8],[0.1,-3.9],[0.2,1.5],[0.2,0.6],[0.2,-0.1],
  [0.2,-0.8],[0.2,-1.5],[0.2,-3.4],[0.2,-5.0],[0.3,2.7],[0.3,1.2],[0.3,0.3],[0.3,-0.5],[0.3,-1.2],[0.3,-2.1],
  [0.4,1.9],[0.4,0.9],[0.4,0.1],[0.4,-0.7],[0.4,-1.4],[0.4,-2.7],[0.5,1.6],[0.5,0.6],[0.5,-0.2],[0.5,-1.0],
  [0.5,-2.6],[0.6,-6.0],[0.6,2.2],[0.6,1.2],[0.6,0.4],[0.6,-0.4],[0.6,-1.3],[0.7,1.8],[0.7,0.9],[0.7,0.1],
  [0.7,-0.7],[0.7,-2.5],[0.8,2.5],[0.8,1.4],[0.8,0.6],[0.8,-0.2],[0.8,-1.0],[0.9,2.0],[0.9,1.1],[0.9,0.3],
  [0.9,-0.5],[0.9,-1.5],[1.0,1.6],[1.0,0.8],[1.0,0.0],[1.0,-1.6],[0.5,2.3],[0.3,-3.0],[0.7,-1.8],[0.2,2.1],
  [1.1,2.9],[1.1,1.9],[1.1,1.0],[1.1,0.3],[1.1,-0.4],[1.1,-2.0],[1.2,2.4],[1.2,1.4],[1.2,0.6],[1.2,-0.1],
  [1.2,-0.9],[1.3,-3.1],[1.3,-1.7],[1.3,3.0],[1.3,2.0],[1.3,1.1],[1.3,0.2],[1.4,2.6],[1.4,1.6],[1.4,0.8],
  [1.4,-0.3],[1.5,3.2],[1.5,2.2],[1.5,1.3],[1.5,0.5],[1.5,-0.6],[1.6,2.8],[1.6,1.8],[1.6,1.0],[1.6,0.1],
  [1.7,3.4],[1.7,2.4],[1.7,1.5],[1.7,0.7],[1.7,-0.2],[1.8,3.9],[1.8,2.9],[1.8,2.0],[1.8,1.2],[1.8,0.4],
  [1.9,2.6],[1.9,1.7],[1.9,0.9],[1.9,-0.6],[2.0,3.1],[2.0,2.2],[2.0,1.4],[2.0,0.6],[1.2,3.2],[1.4,-1.0],
  [1.6,-0.8],[1.9,3.5],[1.3,1.5],[1.6,2.3],[1.0,2.2],[1.5,1.7],[1.8,1.6],
  [2.0,4.4],[2.0,-0.1],[2.1,3.6],[2.1,2.7],[2.1,1.8],[2.1,1.0],[2.2,3.3],[2.2,2.4],[2.2,1.5],[2.2,0.7],
  [2.3,3.9],[2.3,2.9],[2.3,2.1],[2.3,1.2],[2.3,0.5],[2.4,3.5],[2.4,2.6],[2.4,1.8],[2.4,-0.5],[2.4,-0.1],
  [2.5,3.2],[2.5,2.3],[2.5,1.4],[2.5,0.8],[2.6,4.0],[2.6,3.0],[2.6,2.0],[2.6,1.0],[2.7,4.5],[2.7,3.4],
  [2.7,2.6],[2.7,1.7],[2.8,3.8],[2.8,2.9],[2.8,2.2],[2.8,0.5],[2.8,0.3],[2.9,3.3],[2.9,2.5],[2.9,1.6],
  [3.0,4.1],[3.0,3.0],[3.0,2.1],[3.0,1.2],[2.2,1.9],[2.5,2.8],[2.9,2.0],[2.1,0.3],[2.6,3.6],
  [3.1,4.4],[3.1,3.5],[3.1,2.6],[3.1,1.8],[3.2,-0.5],[3.2,5.2],[3.2,3.9],[3.2,3.1],[3.2,2.3],[3.3,4.3],
  [3.3,3.4],[3.3,2.7],[3.3,1.5],[3.4,3.8],[3.4,3.0],[3.4,2.1],[3.5,4.6],[3.5,3.6],[3.5,2.8],[3.5,2.4],
  [3.6,5.1],[3.6,4.0],[3.6,3.2],[3.6,1.9],[3.7,1.0],[3.7,4.3],[3.7,3.5],[3.7,2.6],[3.8,4.7],[3.8,3.8],
  [3.8,3.0],[3.8,2.2],[3.9,5.4],[3.9,4.1],[3.9,3.3],[3.9,2.5],[4.0,5.1],[4.0,3.7],[4.0,2.9],[3.3,3.9],
  [3.5,3.2],[3.7,2.9],[3.4,4.1],[3.6,3.6],
  [4.1,4.6],[4.1,3.4],[4.1,2.7],[4.2,4.0],[4.2,3.1],[4.2,2.0],[4.3,4.8],[4.3,3.6],[4.3,2.9],[4.4,4.3],
  [4.4,3.3],[4.5,4.7],[4.5,3.8],[4.5,3.2],[4.6,4.5],[4.6,3.0],[4.6,4.0],[4.7,4.3],[4.7,3.4],[4.8,4.1],
  [4.8,1.0],[4.8,5.0],[4.9,3.9],[4.9,4.4],[5.0,4.1],[4.4,3.9],
  [5.1,5.7],[5.2,5.1],[5.3,5.1],[5.3,3.6],[5.8,5.3],[5.1,4.4],[5.0,3.8],
  // finer positions filling the cloud
  [-7.84,-6.41],[-7.46,-5.67],[-7.22,-6.64],[-7.12,-3.62],[-6.96,-6.93],[-6.84,-4.32],[-6.71,-5.61],[-6.58,-4.07],
  [-6.44,-6.11],[-6.36,-3.71],[-6.21,-5.93],[-6.06,-2.74],[-5.96,-4.58],[-5.84,-5.49],[-5.73,-2.93],[-5.62,-4.14],
  [-5.47,-2.83],[-5.42,-4.21],[-5.36,-5.36],[-5.31,-3.47],[-5.27,-2.12],[-5.22,-4.66],[-5.16,-3.83],[-5.11,-5.52],[-5.06,-2.58],[-5.02,-4.37],
  [-4.97,-3.62],[-4.93,-5.84],[-4.88,-2.34],[-4.83,-4.93],[-4.79,-3.18],[-4.74,-5.31],[-4.69,-1.72],[-4.64,-4.12],[-4.59,-2.77],[-4.55,-5.68],
  [-4.51,-3.41],[-4.46,-4.64],[-4.41,-2.18],[-4.37,-5.07],[-4.32,-3.66],[-4.27,-4.38],[-4.22,-1.61],[-4.17,-5.73],[-4.12,-3.47],[-4.06,-4.91],
  [-3.97,-2.57],[-3.94,-4.18],[-3.91,-3.07],[-3.87,-5.38],[-3.84,-1.58],[-3.81,-3.49],[-3.77,-4.61],[-3.74,-2.31],[-3.71,-5.87],[-3.67,-3.62],
  [-3.64,-1.14],[-3.61,-4.37],[-3.57,-2.69],[-3.54,-5.04],[-3.51,-3.27],[-3.47,-4.79],[-3.44,-1.87],[-3.41,-3.93],[-3.37,-2.42],[-3.34,-5.63],
  [-3.31,-3.04],[-3.27,-4.47],[-3.24,-1.32],[-3.21,-3.58],[-3.17,-2.77],[-3.14,-5.17],[-3.11,-2.14],[-3.07,-3.86],[-3.04,-4.68],[-3.01,-1.53],
  [-2.98,-2.47],[-2.95,-3.58],[-2.92,-1.61],[-2.89,-4.27],[-2.86,-2.88],[-2.83,-0.46],[-2.81,-3.36],[-2.78,-1.96],[-2.75,-4.83],[-2.72,-2.64],
  [-2.69,-1.17],[-2.66,-3.79],[-2.63,-2.31],[-2.61,-0.81],[-2.58,-3.14],[-2.55,-1.79],[-2.52,-4.06],[-2.49,-2.52],[-2.46,-0.22],[-2.43,-3.43],
  [-2.41,-1.91],[-2.38,-2.78],[-2.35,-4.61],[-2.32,-1.37],[-2.29,-3.22],[-2.26,-2.37],[-2.23,-0.63],[-2.21,-3.87],[-2.18,-1.66],[-2.15,-2.91],
  [-2.12,-4.38],[-2.09,-1.11],[-2.07,-2.14],[-2.05,-3.53],[-2.03,-0.37],[-2.01,-2.71],
  [-1.98,-1.48],[-1.96,-2.68],[-1.93,-0.71],[-1.91,-3.36],[-1.88,-1.92],[-1.86,0.23],[-1.83,-2.41],[-1.81,-1.16],[-1.78,-3.74],[-1.76,-1.67],
  [-1.73,-0.42],[-1.71,-2.87],[-1.68,-1.33],[-1.66,0.61],[-1.63,-2.17],[-1.61,-3.27],[-1.58,-0.96],[-1.56,-1.88],[-1.53,-4.16],[-1.51,-0.18],
  [-1.48,-2.53],[-1.46,-1.44],[-1.43,-3.08],[-1.41,-0.57],[-1.38,-1.97],[-1.36,0.37],[-1.33,-2.66],[-1.31,-1.22],[-1.28,-3.52],[-1.26,-0.84],
  [-1.23,-1.73],[-1.21,0.14],[-1.18,-2.33],[-1.16,-1.04],[-1.13,-3.17],[-1.11,-0.29],[-1.08,-1.56],[-1.06,-2.48],[-1.04,0.42],[-1.02,-1.13],
  [-0.98,-0.37],[-0.96,-1.62],[-0.93,0.58],[-0.91,-2.36],[-0.88,-0.84],[-0.86,0.97],[-0.83,-1.43],[-0.81,-0.06],[-0.78,-2.71],[-0.76,-0.59],
  [-0.73,0.34],[-0.71,-1.87],[-0.68,-0.28],[-0.66,1.16],[-0.63,-1.24],[-0.61,-2.13],[-0.58,0.12],[-0.56,-0.73],[-0.53,-3.08],[-0.51,0.74],
  [-0.48,-1.58],[-0.46,-0.41],[-0.43,-2.47],[-0.41,0.46],[-0.38,-0.94],[-0.36,1.38],[-0.33,-1.86],[-0.31,-0.17],[-0.28,-2.78],[-0.26,0.23],
  [-0.23,-0.82],[-0.21,1.04],[-0.18,-1.49],[-0.16,-0.32],[-0.13,-2.24],[-0.11,0.61],[-0.08,-0.71],[-0.06,-1.63],[-0.04,1.22],[-0.02,-0.12],
  [0.02,0.86],[0.04,-0.62],[0.07,1.47],[0.09,-1.43],[0.12,0.16],[0.14,2.08],[0.17,-0.37],[0.19,0.94],[0.22,-1.76],[0.24,0.41],
  [0.27,1.63],[0.29,-0.86],[0.32,0.72],[0.34,2.31],[0.37,-0.18],[0.39,1.27],[0.42,-1.12],[0.44,0.53],[0.47,1.92],[0.49,-0.47],
  [0.52,0.98],[0.54,-2.04],[0.57,0.27],[0.59,1.56],[0.62,-0.71],[0.64,0.79],[0.67,2.06],[0.69,-0.26],[0.72,1.33],[0.74,0.44],
  [0.77,-1.33],[0.81,1.71],[0.86,0.18],[0.93,1.06],
  [1.02,1.34],[1.05,0.27],[1.08,2.37],[1.12,-0.58],[1.15,1.62],[1.18,0.73],[1.22,2.64],[1.25,-0.22],[1.28,1.18],[1.32,0.54],
  [1.35,2.21],[1.38,1.47],[1.42,-0.41],[1.45,0.97],[1.48,2.46],[1.52,0.23],[1.55,1.83],[1.58,2.94],[1.62,1.31],[1.65,0.46],
  [1.68,2.18],[1.72,1.03],[1.75,2.72],[1.78,-0.31],[1.82,1.57],[1.85,2.38],[1.88,0.78],[1.92,1.96],[1.95,3.18],[1.98,1.22],
  [2.02,2.48],[2.06,1.21],[2.09,2.96],[2.13,0.58],[2.17,2.13],[2.21,3.37],[2.25,1.64],[2.28,2.67],[2.32,0.94],[2.36,3.08],
  [2.4,2.26],[2.44,1.32],[2.48,3.61],[2.52,2.02],[2.56,1.12],[2.6,2.74],[2.64,3.94],[2.68,1.86],[2.72,2.93],[2.76,2.38],
  [2.8,1.37],[2.84,3.47],[2.88,2.71],[2.92,1.84],[2.95,3.19],[2.98,2.41],
  [3.02,3.63],[3.06,2.26],[3.1,3.91],[3.14,1.43],[3.18,2.84],[3.22,4.13],[3.26,3.02],[3.3,2.17],[3.34,3.72],[3.38,2.58],
  [3.42,4.38],[3.46,3.24],[3.5,1.96],[3.54,3.53],[3.58,2.71],[3.62,4.22],[3.66,3.06],[3.7,3.87],[3.74,2.34],[3.78,3.41],
  [3.82,4.51],[3.86,2.87],[3.9,3.64],[3.95,4.27],
  [4.04,4.36],[4.12,3.08],[4.18,3.77],[4.26,4.53],[4.34,3.41],[4.42,4.07],[4.51,2.97],[4.58,4.22],[4.66,3.61],[4.74,4.64],[4.86,3.86],[4.96,4.27]
];

const replicateLabels = { x: 'Replicate 1 transcription activity (log2)', y: 'Replicate 2 transcription activity (log2)', r: 'r = 0.88' };
const barcodeLabels = { x: 'Barcode 1 transcription activity (log2)', y: 'Barcode 2 transcription activity (log2)', r: 'r = 0.86' };

Chart.defaults.font.family = '"Liberation Sans", Arial, sans-serif';
Chart.defaults.color = '#000';

const minus = v => (v < 0 ? '\u2212' + Math.abs(v) : String(v));

// frame, inward ticks on all four sides, r value and panel letter
const framePlugin = {
  id: 'frame',
  afterDraw(chart, args, opts) {
    const { ctx, chartArea: a, scales: { x, y } } = chart;
    ctx.save();
    ctx.strokeStyle = '#222';
    ctx.lineWidth = 1.5;
    ctx.strokeRect(a.left, a.top, a.right - a.left, a.bottom - a.top);
    ctx.lineWidth = 1;
    ctx.beginPath();
    x.ticks.forEach(t => {
      const px = Math.round(x.getPixelForValue(t.value)) + 0.5;
      ctx.moveTo(px, a.bottom); ctx.lineTo(px, a.bottom - 5);
      ctx.moveTo(px, a.top); ctx.lineTo(px, a.top + 5);
    });
    y.ticks.forEach(t => {
      const py = Math.round(y.getPixelForValue(t.value)) + 0.5;
      ctx.moveTo(a.left, py); ctx.lineTo(a.left + 5, py);
      ctx.moveTo(a.right, py); ctx.lineTo(a.right - 5, py);
    });
    ctx.stroke();
    ctx.fillStyle = '#000';
    ctx.textBaseline = 'alphabetic';
    ctx.textAlign = 'left';
    ctx.font = '25px "Liberation Sans", Arial, sans-serif';
    ctx.fillText(opts.r, a.left + opts.rDx, a.top + 43);
    ctx.font = 'bold 50px "Liberation Sans", Arial, sans-serif';
    ctx.fillText(opts.letter, opts.letterX, opts.letterY);
    ctx.restore();
  }
};

function makeChart(id, points, ticks, labels, cfg) {
  return new Chart(document.getElementById(id), {
    type: 'scatter',
    data: {
      datasets: [{
        data: points.map(p => ({ x: p[0], y: p[1] })),
        pointRadius: cfg.radius,
        pointBackgroundColor: '#000',
        pointBorderWidth: 0,
        pointHoverRadius: cfg.radius
      }]
    },
    options: {
      responsive: false,
      animation: false,
      events: [],
      layout: { padding: { top: cfg.top, right: cfg.right, left: 0, bottom: 0 } },
      plugins: {
        legend: { display: false },
        tooltip: { enabled: false },
        frame: { r: labels.r, rDx: cfg.rDx, letter: cfg.letter, letterX: cfg.letterX, letterY: cfg.letterY }
      },
      scales: {
        x: {
          type: 'linear', min: cfg.xMin, max: cfg.xMax,
          afterBuildTicks: s => { s.ticks = ticks.map(v => ({ value: v })); },
          afterFit: s => { s.height = 81; },
          grid: { display: false, drawTicks: false },
          border: { display: false },
          ticks: { autoSkip: false, maxRotation: 0, padding: 8, font: { size: 25 }, callback: minus },
          title: { display: true, text: labels.x, font: { size: 30.5 }, padding: { top: 0, bottom: 3 } }
        },
        y: {
          type: 'linear', min: cfg.yMin, max: cfg.yMax,
          afterBuildTicks: s => { s.ticks = ticks.map(v => ({ value: v })); },
          afterFit: s => { s.width = cfg.yWidth; },
          grid: { display: false, drawTicks: false },
          border: { display: false },
          ticks: { autoSkip: false, padding: cfg.yPad, font: { size: 25 }, callback: minus },
          title: { display: true, text: labels.y, font: { size: 30.5 }, padding: { top: cfg.yTitlePad, bottom: 0 } }
        }
      }
    },
    plugins: [framePlugin]
  });
}

makeChart('chartA', replicatePoints, replicateTicks, replicateLabels, {
  radius: 2.2, top: 80, right: 35, yWidth: 123, yPad: 5, yTitlePad: 37,
  xMin: -11, xMax: 10, yMin: -11, yMax: 10,
  rDx: 30, letter: 'a', letterX: 7, letterY: 37
});

makeChart('chartB', barcodePoints, barcodeTicks, barcodeLabels, {
  radius: 3.1, top: 81, right: 27, yWidth: 134, yPad: 4, yTitlePad: 39,
  xMin: -10, xMax: 8, yMin: -10, yMax: 8,
  rDx: 23, letter: 'b', letterX: 17, letterY: 40
});
</script>
</body>
</html>
